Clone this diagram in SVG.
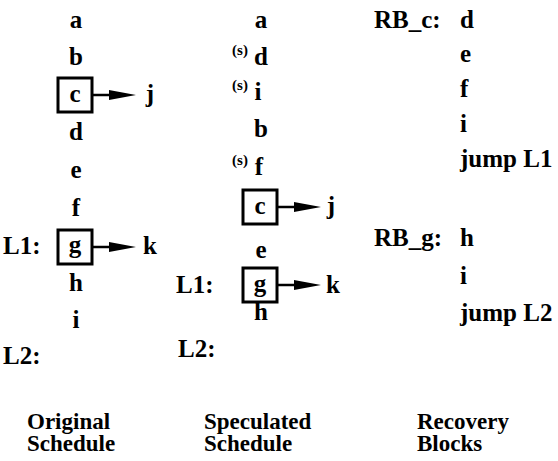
<svg xmlns="http://www.w3.org/2000/svg" width="558" height="461" viewBox="0 0 558 461">
<defs>
<g id="arr"><path d="M0 0 H20" stroke="#000" stroke-width="2.5" fill="none"/><path d="M17 -5 L44 0 L17 5 Z" fill="#000"/></g>
</defs>
<rect width="558" height="461" fill="#fff"/>

<g id="original">
<text x="76" y="28" font-family="Liberation Serif" font-size="25" font-weight="bold" text-anchor="middle">a</text>
<text x="76" y="65" font-family="Liberation Serif" font-size="25" font-weight="bold" text-anchor="middle">b</text>
<g id="o-c"><rect x="58" y="78" width="34" height="34" fill="none" stroke="#000" stroke-width="3"/><text x="75" y="102" font-family="Liberation Serif" font-size="25" font-weight="bold" text-anchor="middle">c</text></g>
<text x="150" y="102" font-family="Liberation Serif" font-size="25" font-weight="bold" text-anchor="middle">j</text>
<text x="76" y="140" font-family="Liberation Serif" font-size="25" font-weight="bold" text-anchor="middle">d</text>
<text x="76" y="178" font-family="Liberation Serif" font-size="25" font-weight="bold" text-anchor="middle">e</text>
<text x="76" y="216" font-family="Liberation Serif" font-size="25" font-weight="bold" text-anchor="middle">f</text>
<text x="3" y="254" font-family="Liberation Serif" font-size="25" font-weight="bold">L1:</text>
<g id="o-g"><rect x="58" y="230" width="34" height="34" fill="none" stroke="#000" stroke-width="3"/><text x="75" y="253" font-family="Liberation Serif" font-size="25" font-weight="bold" text-anchor="middle">g</text></g>
<text x="150" y="254" font-family="Liberation Serif" font-size="25" font-weight="bold" text-anchor="middle">k</text>
<text x="76" y="291" font-family="Liberation Serif" font-size="25" font-weight="bold" text-anchor="middle">h</text>
<text x="76" y="328" font-family="Liberation Serif" font-size="25" font-weight="bold" text-anchor="middle">i</text>
<text x="3" y="364" font-family="Liberation Serif" font-size="25" font-weight="bold">L2:</text>
<text x="27" y="429" font-family="Liberation Serif" font-size="23" font-weight="bold">Original</text>
<text x="27" y="451" font-family="Liberation Serif" font-size="23" font-weight="bold">Schedule</text>
</g>

<g id="speculated">
<text x="261" y="28" font-family="Liberation Serif" font-size="25" font-weight="bold" text-anchor="middle">a</text>
<text x="240" y="55" font-family="Liberation Serif" font-size="15" font-weight="bold" text-anchor="middle">(s)</text>
<text x="261" y="65" font-family="Liberation Serif" font-size="25" font-weight="bold" text-anchor="middle">d</text>
<text x="240" y="90" font-family="Liberation Serif" font-size="15" font-weight="bold" text-anchor="middle">(s)</text>
<text x="258" y="100" font-family="Liberation Serif" font-size="25" font-weight="bold" text-anchor="middle">i</text>
<text x="261" y="137" font-family="Liberation Serif" font-size="25" font-weight="bold" text-anchor="middle">b</text>
<text x="240" y="165" font-family="Liberation Serif" font-size="15" font-weight="bold" text-anchor="middle">(s)</text>
<text x="259" y="175" font-family="Liberation Serif" font-size="25" font-weight="bold" text-anchor="middle">f</text>
<g id="s-c"><rect x="243" y="190" width="34" height="34" fill="none" stroke="#000" stroke-width="3"/><text x="260" y="214" font-family="Liberation Serif" font-size="25" font-weight="bold" text-anchor="middle">c</text></g>
<text x="331" y="214" font-family="Liberation Serif" font-size="25" font-weight="bold" text-anchor="middle">j</text>
<text x="261" y="258" font-family="Liberation Serif" font-size="25" font-weight="bold" text-anchor="middle">e</text>
<text x="176" y="293" font-family="Liberation Serif" font-size="25" font-weight="bold">L1:</text>
<g id="s-g"><rect x="243" y="268" width="34" height="34" fill="none" stroke="#000" stroke-width="3"/><text x="260" y="292" font-family="Liberation Serif" font-size="25" font-weight="bold" text-anchor="middle">g</text></g>
<text x="333" y="293" font-family="Liberation Serif" font-size="25" font-weight="bold" text-anchor="middle">k</text>
<text x="261" y="320" font-family="Liberation Serif" font-size="25" font-weight="bold" text-anchor="middle">h</text>
<text x="178" y="357" font-family="Liberation Serif" font-size="25" font-weight="bold">L2:</text>
<text x="204" y="429" font-family="Liberation Serif" font-size="23" font-weight="bold">Speculated</text>
<text x="204" y="451" font-family="Liberation Serif" font-size="23" font-weight="bold">Schedule</text>
</g>

<g id="recovery">
<text x="374" y="28" font-family="Liberation Serif" font-size="25" font-weight="bold">RB_c:</text>
<text x="460" y="28" font-family="Liberation Serif" font-size="25" font-weight="bold">d</text>
<text x="460" y="62" font-family="Liberation Serif" font-size="25" font-weight="bold">e</text>
<text x="460" y="97" font-family="Liberation Serif" font-size="25" font-weight="bold">f</text>
<text x="460" y="132" font-family="Liberation Serif" font-size="25" font-weight="bold">i</text>
<text x="460" y="167" font-family="Liberation Serif" font-size="25" font-weight="bold">jump L1</text>
<text x="374" y="246" font-family="Liberation Serif" font-size="25" font-weight="bold">RB_g:</text>
<text x="460" y="246" font-family="Liberation Serif" font-size="25" font-weight="bold">h</text>
<text x="460" y="284" font-family="Liberation Serif" font-size="25" font-weight="bold">i</text>
<text x="460" y="321" font-family="Liberation Serif" font-size="25" font-weight="bold">jump L2</text>
<text x="417" y="429" font-family="Liberation Serif" font-size="23" font-weight="bold">Recovery</text>
<text x="417" y="451" font-family="Liberation Serif" font-size="23" font-weight="bold">Blocks</text>
</g>

<g id="connectors">
<use href="#arr" x="92" y="95"/>
<use href="#arr" x="92" y="247"/>
<use href="#arr" x="277" y="207"/>
<use href="#arr" x="277" y="285"/>
</g>
</svg>
